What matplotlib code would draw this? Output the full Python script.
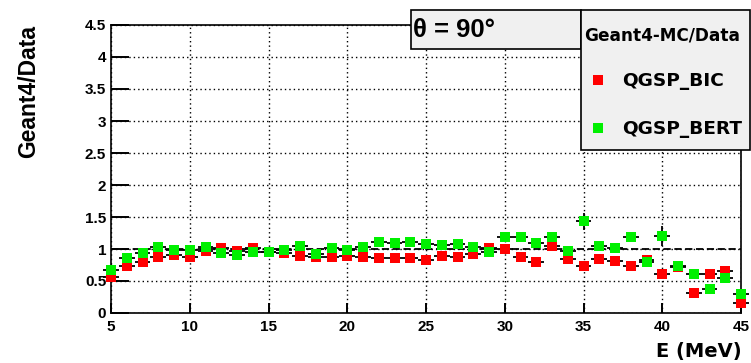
import matplotlib
matplotlib.use("Agg")
import matplotlib.pyplot as plt
from matplotlib.patches import Rectangle

# Beam energy bins (MeV)
energy = list(range(5, 46))
bin_half_width = 0.5

# Geant4 / data ratios at theta = 90 deg
ratio_bic = [0.57, 0.73, 0.79, 0.87, 0.91, 0.87, 0.97, 1.01, 0.97, 1.01,
             0.95, 0.94, 0.89, 0.88, 0.88, 0.89, 0.87, 0.86, 0.86, 0.86,
             0.83, 0.89, 0.87, 0.92, 1.01, 1.00, 0.87, 0.80, 1.04, 0.84,
             0.74, 0.85, 0.82, 0.74, 0.83, 0.61, 0.72, 0.32, 0.61, 0.65,
             0.16]
ratio_bert = [0.67, 0.86, 0.94, 1.03, 0.99, 0.99, 1.03, 0.94, 0.90, 0.95,
              0.96, 0.99, 1.04, 0.92, 1.02, 0.99, 1.03, 1.11, 1.09, 1.11,
              1.08, 1.06, 1.08, 1.03, 0.96, 1.18, 1.18, 1.09, 1.18, 0.97,
              1.43, 1.05, 1.02, 1.18, 0.80, 1.20, 0.74, 0.61, 0.38, 0.55,
              0.29]
err_bic = [0.03] * 30 + [0.04, 0.04, 0.04, 0.04, 0.04, 0.05, 0.05, 0.05,
                         0.05, 0.05, 0.05]
err_bert = [0.03] * 30 + [0.13, 0.04, 0.04, 0.05, 0.05, 0.16, 0.05, 0.05,
                          0.05, 0.05, 0.05]

x_ticks = [5, 10, 15, 20, 25, 30, 35, 40, 45]
y_ticks = [0, 0.5, 1, 1.5, 2, 2.5, 3, 3.5, 4, 4.5]
y_tick_labels = ["0", "0.5", "1", "1.5", "2", "2.5", "3", "3.5", "4", "4.5"]

W, H = 751, 363
fig = plt.figure(figsize=(W / 100, H / 100), dpi=100)
fig.patch.set_facecolor("white")

def fx(px):
    return px / W

def fy(py):
    return 1 - py / H

ax = fig.add_axes([fx(111), fy(313), fx(741) - fx(111), fy(25) - fy(313)])
ax.set_xlim(5, 45)
ax.set_ylim(0, 4.5)

for s in ax.spines.values():
    s.set_linewidth(1.2)
    s.set_color("black")

tick_font = dict(family="Liberation Sans", weight="bold", size=11)
ax.set_xticks(x_ticks)
ax.set_xticklabels([str(t) for t in x_ticks], fontdict=tick_font)
ax.set_yticks(y_ticks)
ax.set_yticklabels(y_tick_labels, fontdict=tick_font)
ax.tick_params(axis="x", direction="in", length=7, width=1.4, pad=5)
ax.tick_params(axis="y", direction="in", length=13, width=1.4, pad=3.5)

# dotted grid on the major ticks
ax.grid(True, color="black", linestyle=(0, (1, 2.2)), linewidth=1.0)
ax.set_axisbelow(True)

# reference line at unity
ax.axhline(1.0, color="black", linestyle=(0, (4, 2)), linewidth=1.3, zorder=1.5)

common = dict(fmt="s", markersize=7.3, markeredgewidth=0, ecolor="black",
              elinewidth=1.3, capsize=3.0, capthick=1.3, clip_on=False)
ax.errorbar(energy, ratio_bic, xerr=bin_half_width, yerr=err_bic,
            color="#ff0000", zorder=3, **common)
ax.errorbar(energy, ratio_bert, xerr=bin_half_width, yerr=err_bert,
            color="#00f000", zorder=4, **common)

# axis titles
fig.text(fx(28.5), fy(25), "Geant4/Data", rotation=90, ha="center", va="top",
         family="Liberation Sans", weight="bold", size=16.5)
fig.text(fx(742), fy(351), "E (MeV)", ha="right", va="center",
         family="DejaVu Sans", weight="bold", size=14)

# angle label box
box_fc = "#f0f0f0"
fig.add_artist(Rectangle((fx(411), fy(49)), fx(581) - fx(411), fy(10) - fy(49),
                         transform=fig.transFigure, facecolor=box_fc,
                         edgecolor="black", linewidth=1.2, zorder=5))
fig.text(fx(413), fy(30), "θ = 90°", ha="left", va="center",
         family="Liberation Sans", weight="bold", size=18.5, zorder=6)

# legend box
fig.add_artist(Rectangle((fx(581), fy(150)), fx(750) - fx(581), fy(10) - fy(150),
                         transform=fig.transFigure, facecolor=box_fc,
                         edgecolor="black", linewidth=1.2, zorder=5))
fig.text(fx(662), fy(35), "Geant4-MC/Data", ha="center", va="center",
         family="DejaVu Sans", weight="bold", size=12.2, zorder=6)
legend_items = [("QGSP_BIC", "#ff0000", 80), ("QGSP_BERT", "#00f000", 128)]
for label, color, py in legend_items:
    fig.add_artist(Rectangle((fx(593), fy(py + 5)), fx(603) - fx(593),
                             fy(py - 5) - fy(py + 5), transform=fig.transFigure,
                             facecolor=color, edgecolor="none", zorder=6))
    fig.text(fx(622), fy(py + 1), label, ha="left", va="center",
             family="DejaVu Sans", weight="bold", size=13.3, zorder=6)

fig.savefig("out.png", dpi=100)
